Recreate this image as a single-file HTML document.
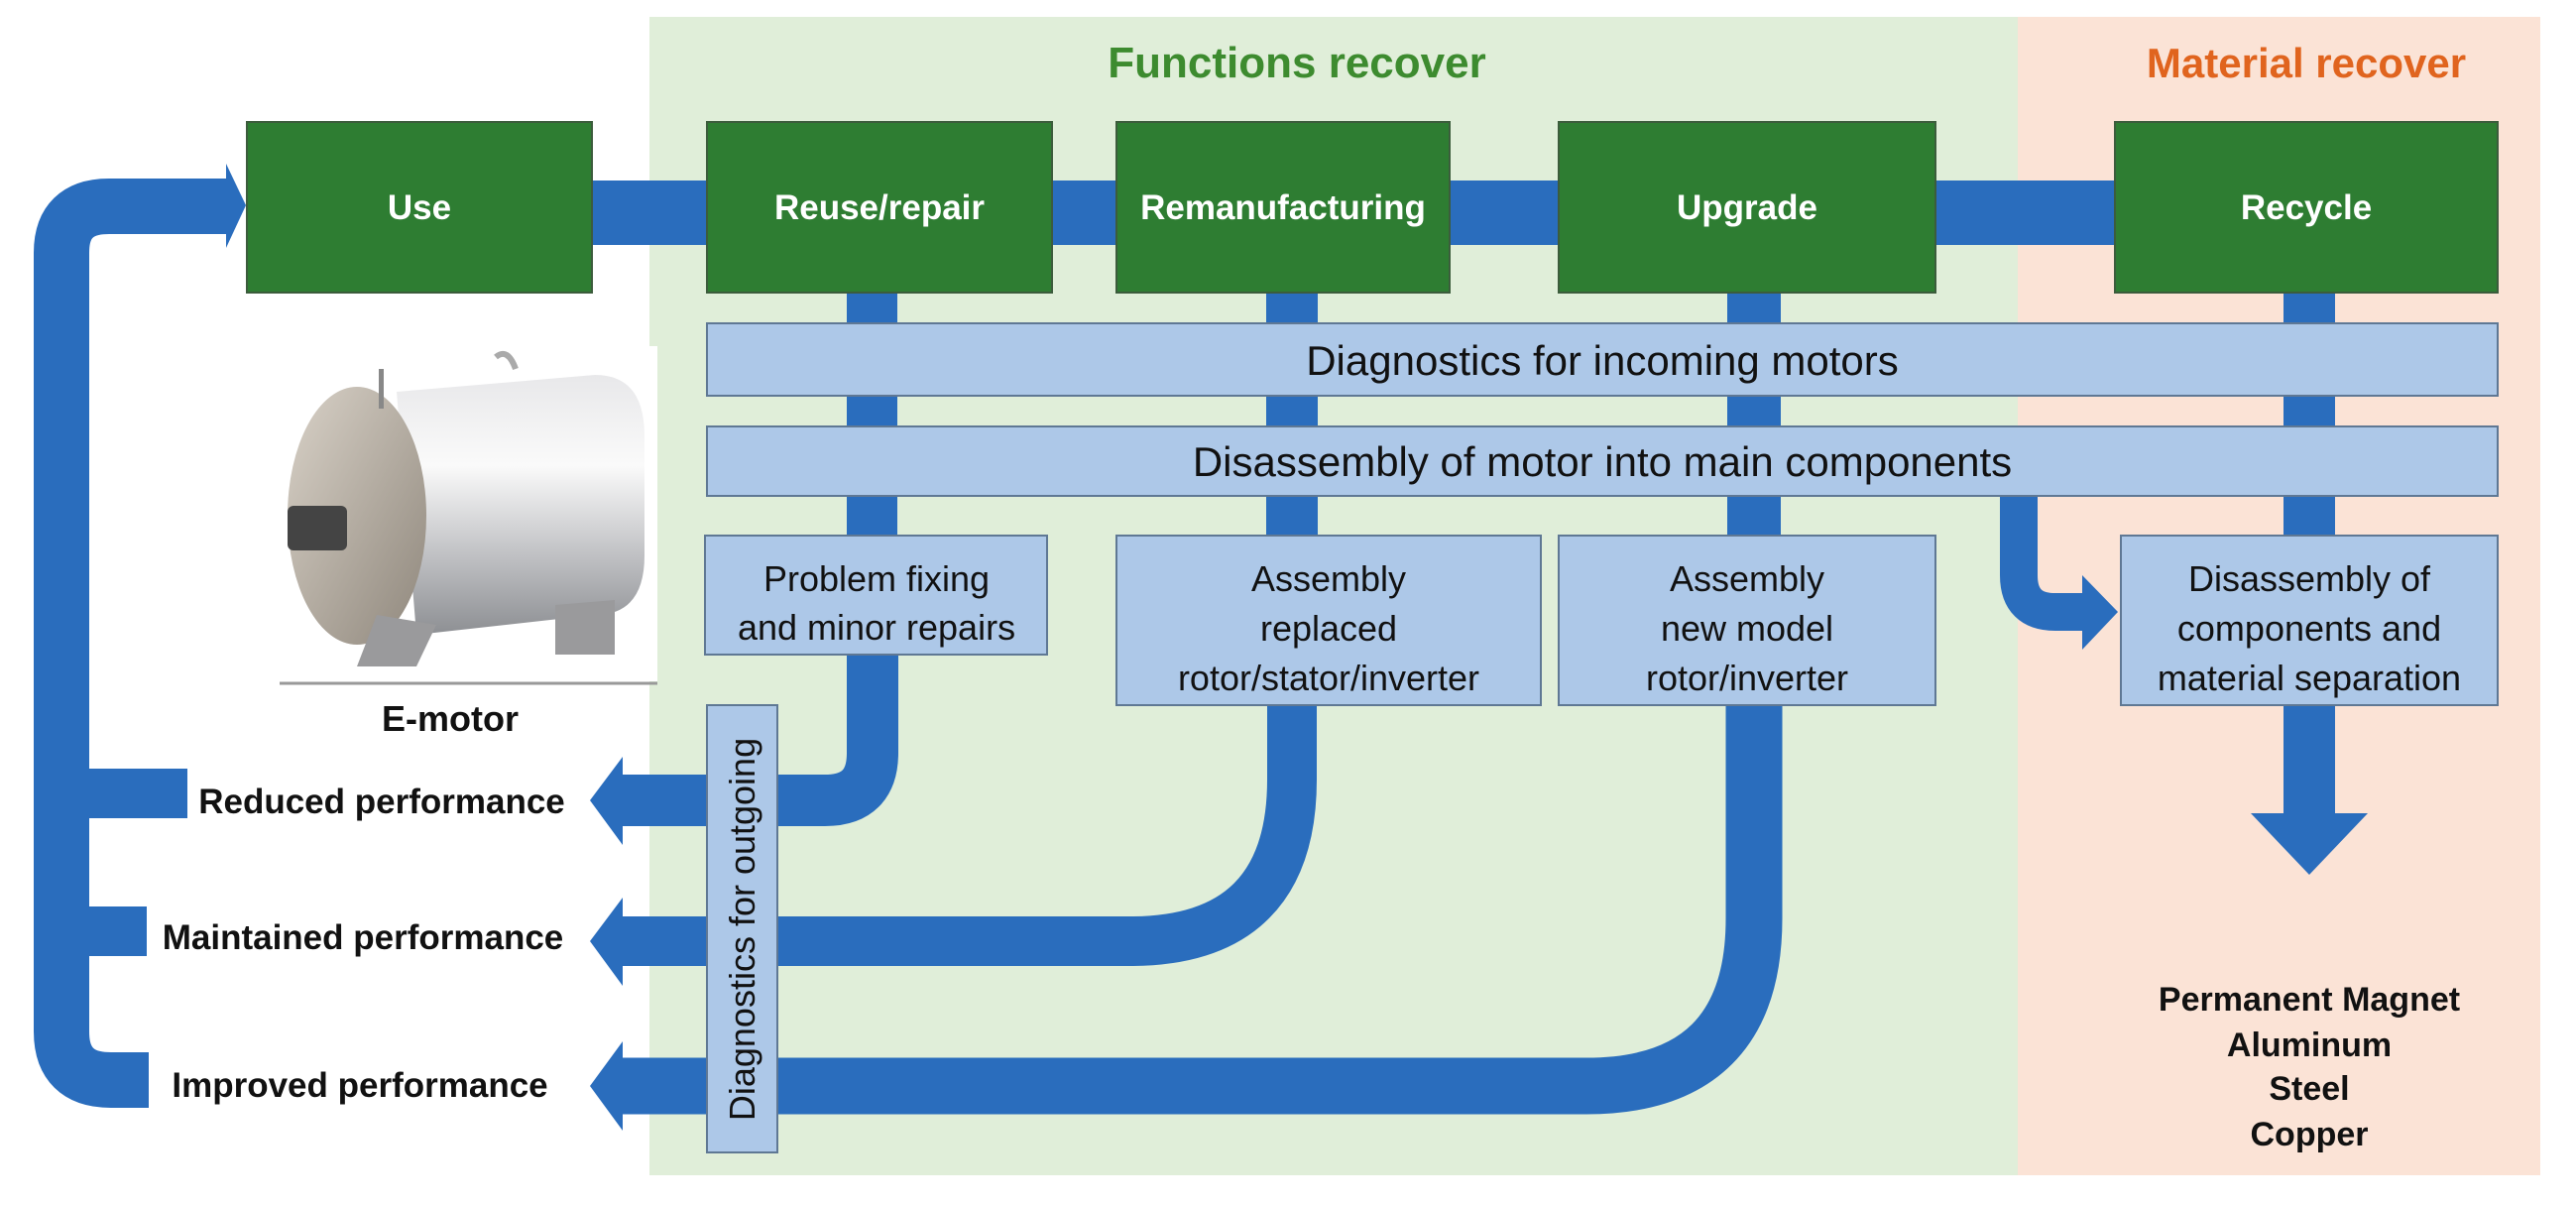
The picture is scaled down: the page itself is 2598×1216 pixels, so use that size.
<!DOCTYPE html>
<html><head><meta charset="utf-8"><style>
html,body{margin:0;padding:0;background:#fff;}
svg{display:block;}
text{font-family:"Liberation Sans",sans-serif;}
</style></head><body>
<svg width="2598" height="1216" viewBox="0 0 2598 1216" xmlns="http://www.w3.org/2000/svg">
<defs>
<linearGradient id="cyl" x1="0" y1="0" x2="0" y2="1">
<stop offset="0" stop-color="#e8e8ea"/><stop offset="0.35" stop-color="#fafafa"/><stop offset="0.7" stop-color="#bfc0c3"/><stop offset="1" stop-color="#8d8f93"/>
</linearGradient>
<linearGradient id="face" x1="0" y1="0" x2="1" y2="1">
<stop offset="0" stop-color="#d9d2c8"/><stop offset="1" stop-color="#8f877c"/>
</linearGradient>
</defs>
<rect x="655" y="17" width="1380" height="1168" fill="#e0eed9"/>
<rect x="2035" y="17" width="527" height="1168" fill="#fbe3d6"/>
<text x="1308" y="78" font-size="44" font-weight="bold" fill="#3d8b2f" text-anchor="middle">Functions recover</text>
<text x="2326" y="78" font-size="42" font-weight="bold" fill="#e0641e" text-anchor="middle">Material recover</text>

<g fill="#2a6dbd" stroke="none">
<rect x="590" y="182" width="1550" height="65"/>
<rect x="854" y="290" width="51" height="255"/>
<rect x="1277" y="290" width="52" height="255"/>
<rect x="1742" y="290" width="54" height="255"/>
<rect x="2303" y="290" width="52" height="255"/>
<rect x="2303" y="705" width="52" height="118"/>
<polygon points="2270,820 2388,820 2329,882"/>
<path d="M150 1089 L112 1089 Q62 1089 62 1040 L62 255 Q62 208 110 208 L232 208" fill="none" stroke="#2a6dbd" stroke-width="56"/>
<polygon points="228,165 248,207 228,250"/>
<rect x="88" y="775" width="101" height="50"/>
<rect x="88" y="914" width="60" height="50"/>
<path d="M620 807 L832 807 Q880 807 880 759 L880 655" fill="none" stroke="#2a6dbd" stroke-width="52"/>
<polygon points="628,763 595,807 628,852"/>
<path d="M620 949 L1140 949 Q1303 949 1303 786 L1303 705" fill="none" stroke="#2a6dbd" stroke-width="50"/>
<polygon points="628,905 595,949 628,994"/>
<path d="M620 1095 L1600 1095 Q1769 1095 1769 926 L1769 705" fill="none" stroke="#2a6dbd" stroke-width="57"/>
<polygon points="628,1050 595,1095 628,1140"/>
<path d="M2036 495 L2036 580 Q2036 617 2073 617 L2105 617" fill="none" stroke="#2a6dbd" stroke-width="38"/>
<polygon points="2100,580 2136,617 2100,655"/>
</g>

<g fill="#2e7d32" stroke="#3c5c3c" stroke-width="2">
<rect x="249" y="123" width="348" height="172"/>
<rect x="713" y="123" width="348" height="172"/>
<rect x="1126" y="123" width="336" height="172"/>
<rect x="1572" y="123" width="380" height="172"/>
<rect x="2133" y="123" width="386" height="172"/>
</g>
<g fill="#fff" font-size="35" font-weight="bold" text-anchor="middle">
<text x="423" y="221">Use</text>
<text x="887" y="221">Reuse/repair</text>
<text x="1294" y="221">Remanufacturing</text>
<text x="1762" y="221">Upgrade</text>
<text x="2326" y="221">Recycle</text>
</g>

<g fill="#adc8e8" stroke="#5f7894" stroke-width="2">
<rect x="713" y="326" width="1806" height="73"/>
<rect x="713" y="430" width="1806" height="70"/>
<rect x="711" y="540" width="345" height="120"/>
<rect x="1126" y="540" width="428" height="171"/>
<rect x="1572" y="540" width="380" height="171"/>
<rect x="2139" y="540" width="380" height="171"/>
<rect x="713" y="711" width="71" height="451"/>
</g>
<g fill="#111" font-size="42" text-anchor="middle">
<text x="1616" y="378">Diagnostics for incoming motors</text>
<text x="1616" y="480">Disassembly of motor into main components</text>
</g>
<g fill="#111" font-size="36" text-anchor="middle">
<text x="884" y="596">Problem fixing</text>
<text x="884" y="645">and minor repairs</text>
<text x="1340" y="596">Assembly</text>
<text x="1340" y="646">replaced</text>
<text x="1340" y="696">rotor/stator/inverter</text>
<text x="1762" y="596">Assembly</text>
<text x="1762" y="646">new model</text>
<text x="1762" y="696">rotor/inverter</text>
<text x="2329" y="596">Disassembly of</text>
<text x="2329" y="646">components and</text>
<text x="2329" y="696">material separation</text>
<text x="761" y="937" transform="rotate(-90 761 937)">Diagnostics for outgoing</text>
</g>

<rect x="282" y="349" width="381" height="338" fill="#fff"/>
<line x1="282" y1="689" x2="663" y2="689" stroke="#999" stroke-width="3"/>
<path d="M400 395 L600 378 Q650 378 650 440 L650 560 Q650 620 600 620 L420 640 Z" fill="url(#cyl)"/>
<ellipse cx="360" cy="520" rx="70" ry="130" fill="url(#face)"/>
<rect x="290" y="510" width="60" height="45" rx="6" fill="#444"/>
<path d="M380 620 L360 672 L420 672 L440 630 Z M560 610 L560 660 L620 660 L620 605 Z" fill="#9a9a9c"/>
<rect x="382" y="372" width="5" height="40" fill="#888"/>
<path d="M500 360 Q512 350 520 372" stroke="#aaa" stroke-width="6" fill="none"/>
<text x="454" y="737" font-size="36" font-weight="bold" fill="#111" text-anchor="middle">E-motor</text>

<g fill="#111" font-size="35" font-weight="bold" text-anchor="middle">
<text x="385" y="820">Reduced performance</text>
<text x="366" y="957">Maintained performance</text>
<text x="363" y="1106">Improved performance</text>
</g>
<g fill="#111" font-size="34" font-weight="bold" text-anchor="middle">
<text x="2329" y="1019">Permanent Magnet</text>
<text x="2329" y="1065">Aluminum</text>
<text x="2329" y="1109">Steel</text>
<text x="2329" y="1155">Copper</text>
</g>
</svg>
</body></html>
